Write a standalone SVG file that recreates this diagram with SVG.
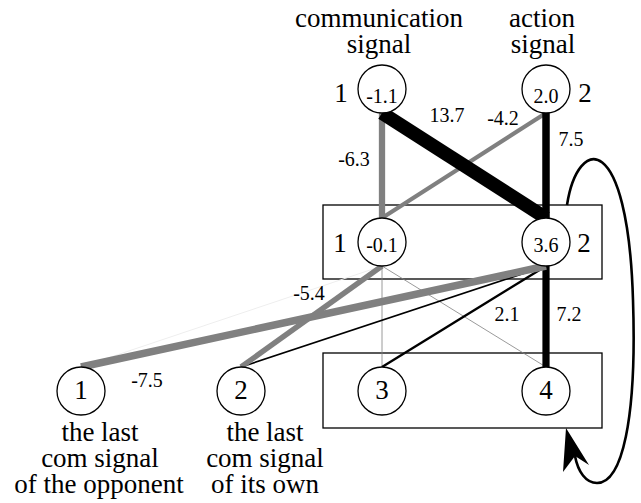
<svg xmlns="http://www.w3.org/2000/svg" width="641" height="503" viewBox="0 0 641 503" font-family="Liberation Serif, DejaVu Serif, serif">
<style>
text{font-family:"Liberation Serif","DejaVu Serif",serif}
.big{font-size:27px;fill:#000;text-anchor:middle}
.sm{font-size:20px;fill:#000;text-anchor:middle}
.node{fill:#fff;stroke:#000;stroke-width:1.3}
.box{fill:none;stroke:#000;stroke-width:1.3}
.pos{stroke:#000;fill:none}
.neg{stroke:#808080;fill:none}
</style>
<rect width="641" height="503" fill="#fff"/>
<g id="labels-top">
<text class="big" x="379" y="27">communication</text>
<text class="big" x="379" y="53">signal</text>
<text class="big" x="542" y="27">action</text>
<text class="big" x="543" y="53">signal</text>
</g>
<g id="hidden-box"><rect class="box" x="323" y="205" width="279" height="74"/></g>
<g id="output-box"><rect class="box" x="323" y="353" width="279" height="75"/></g>
<g id="connectors">
<line x1="382" y1="266" x2="81" y2="367" stroke="#eeeeee" stroke-width="1"/>
<line class="neg" x1="382" y1="266" x2="382" y2="367" stroke-width="0.8"/>
<line class="neg" x1="382" y1="266" x2="546" y2="367" stroke-width="0.8"/>
<line class="pos" x1="546" y1="266" x2="241" y2="367" stroke-width="1.6"/>
<line class="pos" x1="546" y1="266" x2="382" y2="367" stroke-width="2.4"/>
<line class="pos" x1="546" y1="266" x2="546" y2="367" stroke-width="7.2"/>
<line class="neg" x1="546" y1="266" x2="81" y2="367" stroke-width="7.5"/>
<line class="neg" x1="382" y1="266" x2="241" y2="367" stroke-width="5.4"/>
<line class="neg" x1="382" y1="113" x2="382" y2="218" stroke-width="6.3"/>
<line class="neg" x1="546" y1="113" x2="382" y2="218" stroke-width="4.2"/>
<line class="pos" x1="382" y1="113" x2="546" y2="218" stroke-width="13.7"/>
<line class="pos" x1="546" y1="113" x2="546" y2="218" stroke-width="7.5"/>
<path class="pos" stroke-width="2.6" d="M567,205 C578,135 628,130 633,300 C637,420 622,483 597,483 C586,483 578,472 575,456"/>
<polygon points="566,428 589,465 575,456 563,472" fill="#000"/>
<text class="sm" x="447" y="122">13.7</text>
<text class="sm" x="503" y="125">-4.2</text>
<text class="sm" x="571" y="146">7.5</text>
<text class="sm" x="354" y="166">-6.3</text>
<text class="sm" x="309" y="300">-5.4</text>
<text class="sm" x="507" y="321">2.1</text>
<text class="sm" x="569" y="321">7.2</text>
<text class="sm" x="147" y="387">-7.5</text>
</g>
<g id="top1"><circle class="node" cx="382" cy="89" r="24"/><text class="sm" x="382" y="103">-1.1</text><text class="big" x="341" y="102">1</text></g>
<g id="top2"><circle class="node" cx="546" cy="89" r="24"/><text class="sm" x="546" y="103">2.0</text><text class="big" x="585" y="102">2</text></g>
<g id="hid1"><circle class="node" cx="382" cy="242" r="24"/><text class="sm" x="382" y="252">-0.1</text><text class="big" x="340" y="252">1</text></g>
<g id="hid2"><circle class="node" cx="546" cy="242" r="24"/><text class="sm" x="546" y="252">3.6</text><text class="big" x="584" y="252">2</text></g>
<g id="in1"><circle class="node" cx="81" cy="391" r="24"/><text class="big" x="81" y="399">1</text>
<text class="big" x="100" y="441">the last</text><text class="big" x="100" y="467">com signal</text><text class="big" x="99" y="493">of the opponent</text></g>
<g id="in2"><circle class="node" cx="241" cy="391" r="24"/><text class="big" x="241" y="399">2</text>
<text class="big" x="265" y="441">the last</text><text class="big" x="265" y="467">com signal</text><text class="big" x="265" y="493">of its own</text></g>
<g id="out3"><circle class="node" cx="382" cy="391" r="24"/><text class="big" x="382" y="399">3</text></g>
<g id="out4"><circle class="node" cx="546" cy="391" r="24"/><text class="big" x="546" y="399">4</text></g>
</svg>
